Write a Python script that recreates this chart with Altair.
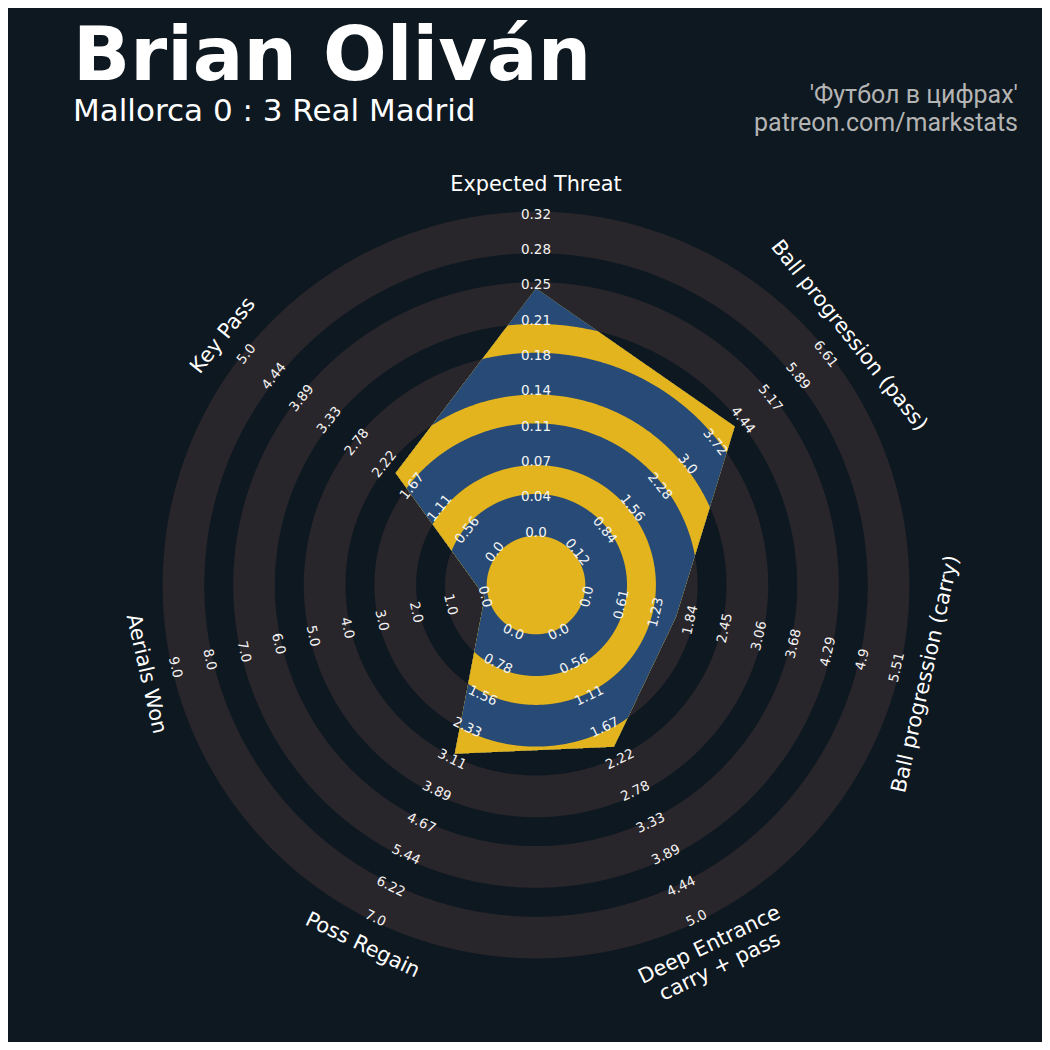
import numpy as np
import pandas as pd
import altair as alt

# ---------------- data ----------------
params = ["Expected Threat", "Ball progression (pass)", "Ball progression (carry)",
          "Deep Entrance\ncarry + pass", "Poss Regain", "Aerials Won", "Key Pass"]
low = [0.0, 0.115, 0.0, 0.0, 0.0, 0.0, 0.0]
high = [0.32, 6.61, 5.51, 5.0, 7.0, 9.0, 5.0]
values = [0.246, 4.24, 1.58, 2.0, 2.97, 0.0, 2.0]
range_labels = [
    ["0.0", "0.04", "0.07", "0.11", "0.14", "0.18", "0.21", "0.25", "0.28", "0.32"],
    ["0.12", "0.84", "1.56", "2.28", "3.0", "3.72", "4.44", "5.17", "5.89", "6.61"],
    ["0.0", "0.61", "1.23", "1.84", "2.45", "3.06", "3.68", "4.29", "4.9", "5.51"],
    ["0.0", "0.56", "1.11", "1.67", "2.22", "2.78", "3.33", "3.89", "4.44", "5.0"],
    ["0.0", "0.78", "1.56", "2.33", "3.11", "3.89", "4.67", "5.44", "6.22", "7.0"],
    ["0.0", "1.0", "2.0", "3.0", "4.0", "5.0", "6.0", "7.0", "8.0", "9.0"],
    ["0.0", "0.56", "1.11", "1.67", "2.22", "2.78", "3.33", "3.89", "4.44", "5.0"],
]
title = "Brian Oliván"
subtitle = "Mallorca 0 : 3 Real Madrid"
credit = ["'Футбол в цифрах'", "patreon.com/markstats"]

# ---------------- style ----------------
BG = "#0e1820"
GRAY = "#28252b"
BLUE = "#274b76"
YELLOW = "#e3b41d"

NUM_RINGS = 9
UNIT_PX = 35.3           # one ring width in pixels
CCR = 52.5 / UNIT_PX     # centre circle radius (ring units)
EDGE = 3.2 / UNIT_PX     # half edge width that widens gray/blue, narrows dark/yellow
RMAX = CCR + NUM_RINGS
LABEL_R = 400 / UNIT_PX
CENTER = [528, 577]

# ---------------- geometry from data ----------------
N = len(params)
step = 2 * np.pi / N
theta = np.arange(N) * step                      # clockwise from top
lo, hi, va = np.array(low), np.array(high), np.array(values)
rv = CCR + (va - lo) / (hi - lo) * (RMAX - CCR)
vx, vy = rv * np.sin(theta), rv * np.cos(theta)


def rho(phi):
    i = np.floor(phi / step).astype(int) % N
    j = (i + 1) % N
    px, py = vx[i], vy[i]
    ex, ey = vx[j] - px, vy[j] - py
    dx, dy = np.sin(phi), np.cos(phi)
    return (px * ey - py * ex) / (dx * ey - dy * ex)


phi = np.unique(np.concatenate([np.linspace(0, 2 * np.pi, 1440, endpoint=False), theta]))
rho_phi = rho(phi)


def ring_coords(r):
    xs, ys = r * np.sin(phi), r * np.cos(phi)
    pts = [[round(float(a), 4), round(float(b), 4)] for a, b in zip(xs, ys)]
    pts.append(pts[0])
    return pts


features = []
# outside pattern: nested disks, largest first
for k in range(NUM_RINGS, -1, -1):
    R = CCR + k + (EDGE if k % 2 == 1 else -EDGE)
    features.append({"type": "Feature",
                     "geometry": {"type": "Polygon", "coordinates": [ring_coords(np.full_like(phi, R))]},
                     "properties": {"fill": GRAY if k % 2 == 1 else BG}})
# inside pattern: radar polygon ∩ disk, largest first
for k in range(NUM_RINGS, -1, -1):
    R = CCR + k + (EDGE if k % 2 == 1 else -EDGE)
    features.append({"type": "Feature",
                     "geometry": {"type": "Polygon", "coordinates": [ring_coords(np.minimum(R, rho_phi))]},
                     "properties": {"fill": BLUE if k % 2 == 1 else YELLOW}})


def text_angle(deg):
    deg = deg % 360
    if deg <= 90 or deg >= 270:
        return deg
    return (deg - 180) % 360


rows = []
for i in range(N):
    for j, lab in enumerate(range_labels[i]):
        r = CCR + j
        rows.append({"lon": r * np.sin(theta[i]), "lat": r * np.cos(theta[i]),
                     "text": lab, "ang": text_angle(np.degrees(theta[i]))})
range_df = pd.DataFrame(rows)

param_df = pd.DataFrame({
    "lon": LABEL_R * np.sin(theta),
    "lat": LABEL_R * np.cos(theta),
    "text": params,
    "ang": [text_angle(np.degrees(t)) for t in theta],
})

# ---------------- chart ----------------
shapes = alt.Chart(alt.Data(values=features)).mark_geoshape(strokeWidth=0).encode(
    color=alt.Color("properties.fill:N", scale=None)
)

rlabels = alt.Chart(range_df).mark_text(
    font="DejaVu Sans", fontSize=13.5, color="#f4f4f4", align="center", baseline="middle"
).encode(longitude="lon:Q", latitude="lat:Q", text="text:N", angle=alt.Angle("ang:Q", scale=None))

plabels = alt.Chart(param_df).mark_text(
    font="DejaVu Sans", fontSize=20.8, color="white", align="center", baseline="middle",
    lineBreak="\n", lineHeight=24
).encode(longitude="lon:Q", latitude="lat:Q", text="text:N", angle=alt.Angle("ang:Q", scale=None))

t1 = alt.Chart(pd.DataFrame({"t": [title]})).mark_text(
    font="DejaVu Sans", fontSize=75, fontWeight="bold", color="white", align="left", baseline="alphabetic"
).encode(x=alt.value(65), y=alt.value(72), text="t:N")

t2 = alt.Chart(pd.DataFrame({"t": [subtitle]})).mark_text(
    font="DejaVu Sans", fontSize=31, color="white", align="left", baseline="alphabetic"
).encode(x=alt.value(65), y=alt.value(113), text="t:N")

c1 = alt.Chart(pd.DataFrame({"t": [credit[0]]})).mark_text(
    font="Roboto", fontSize=25, color="#b4b4b4", align="right", baseline="alphabetic"
).encode(x=alt.value(1010), y=alt.value(95), text="t:N")

c2 = alt.Chart(pd.DataFrame({"t": [credit[1]]})).mark_text(
    font="Roboto", fontSize=25, color="#b4b4b4", align="right", baseline="alphabetic"
).encode(x=alt.value(1010), y=alt.value(123), text="t:N")

chart = alt.layer(shapes, rlabels, plabels, t1, t2, c1, c2).project(
    type="identity", reflectY=True, scale=UNIT_PX, translate=CENTER
).properties(
    width=1034, height=1034, padding=0, autosize="none"
).configure(background=BG).configure_view(strokeWidth=0)

chart.save("out.html", embed_options={"renderer": "svg", "actions": False})
